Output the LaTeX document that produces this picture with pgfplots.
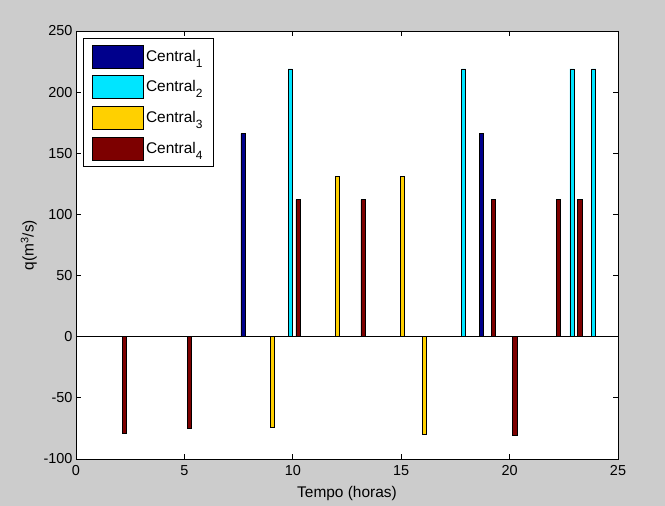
\documentclass[border=0pt]{standalone}
\usepackage{fontspec}
\setmainfont{Liberation Sans}
\usepackage{pgfplots}
\pgfplotsset{compat=1.18}
\definecolor{c1}{RGB}{0,0,140}
\definecolor{c2}{RGB}{0,229,255}
\definecolor{c3}{RGB}{255,208,0}
\definecolor{c4}{RGB}{125,0,0}
\definecolor{figbg}{RGB}{204,204,204}
\newcommand{\mfont}{\fontsize{14.5}{17}\selectfont}
\newcommand{\lfont}{\fontsize{15.5}{18}\selectfont}
\newcommand{\sub}[1]{\raisebox{-6bp}{\fontsize{12}{12}\selectfont #1}}

\begin{document}
\begin{tikzpicture}
\fill[figbg] (0bp,0bp) rectangle (665bp,506bp);
\begin{axis}[
    at={(76bp,47bp)}, anchor=south west,
    scale only axis, width=542bp, height=428bp,
    xmin=0, xmax=25, ymin=-100, ymax=250,
    xtick={0,5,...,25}, ytick={-100,-50,...,250},
    tick align=inside, tick pos=both, major tick length=5bp,
    axis background/.style={fill=white},
    axis line style={line width=0.8bp},
    every tick/.style={black, line width=0.8bp},
    /pgf/number format/assume math mode=true,
    tick label style={font=\mfont},
    xticklabel style={yshift=-3bp},
    label style={font=\lfont},
    xlabel style={yshift=-4bp},
    xlabel={Tempo (horas)},
    ylabel={q(m\textsuperscript{3}/s)},
    legend style={at={(0.013,0.984)}, anchor=north west, draw=black,
        fill=white, line width=0.8bp, font=\lfont, row sep=7bp,
        inner xsep=9bp, inner ysep=6.5bp},
    legend cell align=left,
    legend image code/.code={\draw[#1] (0bp,-11.5bp) rectangle (51bp,11.5bp);},
]
\addplot[ybar, bar width=0.19, bar shift=-0.30, fill=c1, draw=black, line width=0.6bp]
    coordinates {(8,166) (19,166)};
\addlegendentry{Central\sub{1}}
\addplot[ybar, bar width=0.19, bar shift=-0.12, fill=c2, draw=black, line width=0.6bp]
    coordinates {(10,219) (18,219) (23,219) (24,219)};
\addlegendentry{Central\sub{2}}
\addplot[ybar, bar width=0.19, bar shift=0.06, fill=c3, draw=black, line width=0.6bp]
    coordinates {(9,-74) (12,131) (15,131) (16,-80)};
\addlegendentry{Central\sub{3}}
\addplot[ybar, bar width=0.19, bar shift=0.24, fill=c4, draw=black, line width=0.6bp]
    coordinates {(2,-79) (5,-75) (10,112) (13,112) (19,112) (20,-81) (22,112) (23,112)};
\addlegendentry{Central\sub{4}}
\draw[black, line width=0.8bp] (axis cs:0,0) -- (axis cs:25,0);
\end{axis}
\end{tikzpicture}
\end{document}
